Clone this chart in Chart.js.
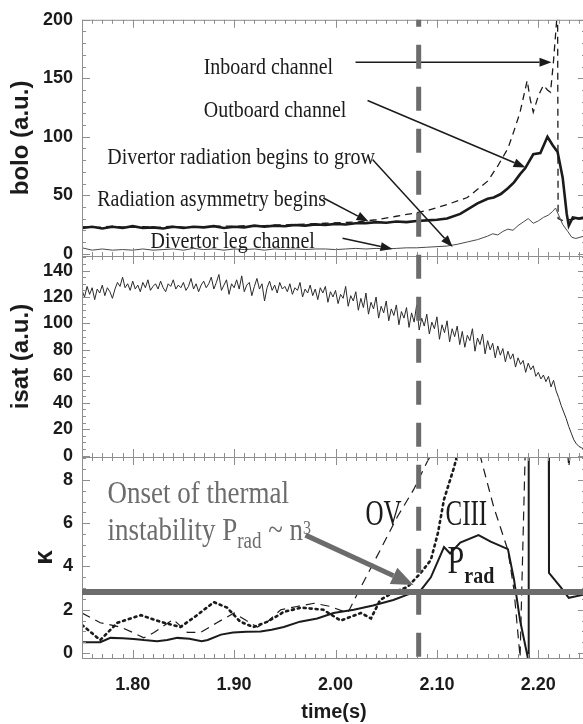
<!DOCTYPE html>
<html>
<head>
<meta charset="utf-8">
<script src="https://cdn.jsdelivr.net/npm/chart.js@4.4.1/dist/chart.umd.min.js"></script>
<style>
  html, body { margin: 0; padding: 0; background: #fff; }
  #wrap { position: relative; width: 583px; height: 724px; overflow: hidden; }
  canvas { position: absolute; left: 0; top: 0; }
</style>
</head>
<body>
<div id="wrap">
  <canvas id="boloChart" width="590" height="724"></canvas>
  <canvas id="isatChart" width="590" height="724"></canvas>
  <canvas id="kappaChart" width="590" height="724"></canvas>
</div>
<script>
// time axis
const T_MIN = 1.75;
const T_MAX = 2.247;
const X_TICKS = [1.8, 1.9, 2.0, 2.1, 2.2];
const ONSET_T = 2.082;

// bolo panel
const BOLO_TICKS = [0, 50, 100, 150, 200];
const OUT_T = [1.750, 1.760, 1.770, 1.780, 1.790, 1.800, 1.810, 1.820, 1.830, 1.840,
  1.850, 1.860, 1.870, 1.880, 1.890, 1.900, 1.910, 1.920, 1.930, 1.940,
  1.950, 1.960, 1.970, 1.980, 1.990, 2.000, 2.010, 2.020, 2.030, 2.040,
  2.050, 2.060, 2.070, 2.080, 2.090, 2.100, 2.110,
  2.123, 2.140, 2.150, 2.156, 2.163, 2.170, 2.176, 2.182, 2.187, 2.195,
  2.202, 2.209, 2.214, 2.219, 2.224, 2.228, 2.230, 2.234, 2.240, 2.245];
const OUT_V = [22, 23, 21.5, 23, 22, 23.5, 22, 22.5, 21.5, 23,
  22, 23, 22.5, 23.5, 22, 23, 22.5, 24, 23, 24,
  23.5, 24.5, 24, 25, 24.5, 25.5, 25, 26, 26, 27,
  26.5, 27.5, 27, 28, 28.5, 29, 30,
  34, 43, 47, 48, 51, 56, 61, 68, 73, 85,
  86, 100, 93, 87, 65, 34, 24, 31, 30, 31];
const IN_T = [1.750, 1.765, 1.780, 1.795, 1.810, 1.825, 1.840, 1.855, 1.870, 1.885,
  1.900, 1.915, 1.930, 1.945, 1.960, 1.975, 1.990, 2.005, 2.020, 2.040,
  2.060, 2.080, 2.091, 2.110, 2.130, 2.150, 2.160, 2.170, 2.176, 2.182,
  2.189, 2.192, 2.195, 2.200, 2.205, 2.209, 2.212, 2.215, 2.219, 2.2195,
  2.225, 2.230, 2.245];
const IN_V = [23, 22.5, 23.5, 22.5, 23, 22.5, 23.5, 22.5, 23, 23.5,
  23.5, 24, 24, 24.5, 25, 25.5, 26, 26.5, 27, 29,
  32, 35, 37, 42, 48, 62, 75, 90, 105, 121,
  148, 132, 121, 135, 144, 140, 138, 165, 210, 30,
  28, 29, 30];
const LEG_T = [1.750, 1.760, 1.770, 1.780, 1.790, 1.800, 1.810, 1.820, 1.830, 1.840,
  1.850, 1.860, 1.870, 1.880, 1.890, 1.900, 1.910, 1.920, 1.930, 1.940,
  1.950, 1.960, 1.970, 1.980, 1.990, 2.000, 2.010, 2.020, 2.030, 2.040,
  2.050, 2.060, 2.070, 2.080, 2.090, 2.100, 2.110,
  2.120, 2.130, 2.140, 2.150, 2.155, 2.160, 2.165, 2.170, 2.175, 2.180,
  2.185, 2.190, 2.195, 2.200, 2.205, 2.210, 2.214, 2.217, 2.220, 2.224,
  2.229, 2.233, 2.237, 2.241, 2.245];
const LEG_V = [5, 3, 4, 3, 3.5, 3, 4, 3, 3.5, 4,
  3, 4.5, 3.5, 4, 3, 4, 3.5, 4, 3, 4,
  3.5, 4, 3.5, 4, 4, 3.5, 4, 4.5, 4, 4.5,
  4, 4.5, 5, 5, 5.5, 6, 6.5,
  8, 10, 12, 15, 17, 16, 19, 21, 20, 24,
  27, 30, 26, 28, 31, 33, 36, 39, 33, 25,
  19, 14, 13, 14, 15];
const BOLO_NOTES = [
  ["Inboard channel", 1.870, 153.7],
  ["Outboard channel", 1.870, 116.7],
  ["Divertor radiation begins to grow", 1.775, 77.1],
  ["Radiation asymmetry begins", 1.765, 40.9],
  ["Divertor leg channel", 1.8176, 4.7],
];
const BOLO_ARROWS = [
  [2.0197, 163.8, 2.213, 163.8],
  [2.0316, 131, 2.1874, 73.7],
  [2.0365, 80.5, 2.1155, 5.6],
  [1.988, 47.6, 2.0326, 27.4],
  [2.0069, 13.1, 2.0562, 3.9],
];

// isat panel (sampled every 2.5 ms from 1.75 s)
const ISAT_TICKS = [0, 20, 40, 60, 80, 100, 120, 140];
const ISAT_T0 = 1.75;
const ISAT_DT = 0.0025;
const ISAT = [
  125, 120, 128, 122, 127, 118, 126, 123, 129, 121,
  127, 124, 119, 126, 131, 128, 135, 127, 130, 125,
  132, 126, 129, 124, 131, 127, 133, 125, 128, 130,
  126, 132, 127, 124, 130, 128, 133, 126, 129, 127,
  131, 125, 128, 134, 126, 130, 124, 129, 132, 127,
  130, 135, 126, 131, 137, 125, 129, 133, 122, 130,
  127, 133, 126, 136, 124, 129, 131, 121, 128, 134,
  126, 130, 117, 127, 132, 125, 129, 123, 131, 126,
  128, 124, 130, 122, 127, 125, 131, 120, 126, 123,
  129, 121, 126, 118, 127, 123, 128, 116, 124, 120,
  125, 115, 122, 119, 128, 113, 121, 117, 124, 110,
  119, 112, 123, 107, 116, 111, 120, 104, 113, 108,
  117, 102, 111, 106, 114, 99, 109, 104, 112, 97,
  108, 101, 114, 95, 104, 98, 107, 92, 101, 96,
  105, 88, 99, 93, 102, 86, 96, 90, 98, 84,
  94, 82, 91, 87, 96, 79, 89, 84, 92, 77,
  87, 80, 85, 74, 83, 76, 81, 71, 79, 73,
  77, 67, 74, 69, 72, 63, 70, 65, 68, 60,
  63, 58, 61, 56, 60, 52, 57, 49, 44, 38,
  33, 28, 22, 17, 12, 9, 7, 6, 5,
];

// kappa panel
const KAPPA_TICKS = [0, 2, 4, 6, 8];
const THRESHOLD_K = 2.82;
const PRAD_T = [1.750, 1.768, 1.778, 1.790, 1.801, 1.811, 1.824, 1.834, 1.844, 1.856,
  1.868, 1.874, 1.887, 1.899, 1.912, 1.926, 1.937, 1.949, 1.965, 1.982,
  1.998, 2.018, 2.037, 2.057, 2.071, 2.084, 2.094, 2.107, 2.113, 2.123,
  2.141, 2.153, 2.170, 2.176, 2.182, 2.190, 2.1905, 2.210, 2.2105, 2.222,
  2.230, 2.245];
const PRAD_V = [0.5, 0.5, 0.7, 0.68, 0.65, 0.6, 0.55, 0.6, 0.7, 0.66,
  0.55, 0.6, 0.85, 0.95, 0.98, 1.0, 1.08, 1.2, 1.45, 1.6,
  1.85, 2.0, 2.2, 2.45, 2.7, 2.9, 3.5, 4.9, 4.6, 5.1,
  5.45, 5.15, 4.8, 3.4, 1.5, -0.3, 20, 20, 3.7, 3.05,
  2.55, 2.7];
const OV_T = [1.750, 1.768, 1.788, 1.800, 1.811, 1.821, 1.840, 1.854, 1.867, 1.883,
  1.900, 1.912, 1.923, 1.933, 1.946, 1.962, 1.979, 1.995, 2.012, 2.025,
  2.044, 2.061, 2.077, 2.091, 2.120, 2.143, 2.156, 2.170, 2.176, 2.182,
  2.1885, 2.226, 2.230, 2.236, 2.245];
const OV_V = [1.85, 1.4, 1.2, 0.95, 0.7, 0.95, 1.55, 0.95, 0.95, 1.4,
  1.85, 1.5, 1.2, 1.45, 2.0, 2.15, 2.3, 2.15, 1.85, 3.05,
  4.75, 6.3, 7.55, 8.9, 11, 9.05, 6.75, 4.75, 2.9, -0.2,
  12, 11, 8.6, 11, 12];
const CIII_T = [1.750, 1.768, 1.785, 1.808, 1.827, 1.847, 1.862, 1.880, 1.893, 1.906,
  1.919, 1.933, 1.949, 1.966, 1.988, 2.005, 2.025, 2.035, 2.044, 2.057,
  2.071, 2.084, 2.094, 2.101, 2.107, 2.117, 2.130, 2.245];
const CIII_V = [1.3, 0.6, 1.4, 1.75, 1.45, 1.2, 1.7, 2.35, 2.1, 1.45,
  1.2, 1.45, 1.9, 2.1, 2.0, 1.5, 1.85, 1.6, 2.45, 2.8,
  3.05, 3.7, 4.3, 5.55, 7.1, 8.6, 11, 11];

const SANS = "'Liberation Sans', Arial, sans-serif";
const SERIF = "'Liberation Serif', 'Times New Roman', serif";
const INK = "#1b1b1b";
const GREY = "#6c6c6c";

function pts(ts, vs) {
  return ts.map((t, i) => ({ x: t, y: vs[i] }));
}

function drawFrame(chart, yMinor, yMajor) {
  const { ctx, chartArea: a, scales: { x, y } } = chart;
  ctx.save();
  ctx.strokeStyle = "#8e8e8e";
  ctx.lineWidth = 1;
  ctx.strokeRect(a.left + 0.5, a.top + 0.5, a.right - a.left, a.bottom - a.top);
  ctx.beginPath();
  for (let i = 175; i <= 224; i++) {
    const px = Math.round(x.getPixelForValue(i / 100)) + 0.5;
    const len = i % 10 === 0 ? 8 : 4;
    ctx.moveTo(px, a.top); ctx.lineTo(px, a.top + len);
    ctx.moveTo(px, a.bottom); ctx.lineTo(px, a.bottom - len);
  }
  const n0 = Math.ceil(y.min / yMinor);
  const n1 = Math.floor(y.max / yMinor);
  for (let n = n0; n <= n1; n++) {
    const v = n * yMinor;
    const py = Math.round(y.getPixelForValue(v)) + 0.5;
    const r = v / yMajor;
    const len = Math.abs(r - Math.round(r)) < 1e-6 ? 8 : 4;
    ctx.moveTo(a.left, py); ctx.lineTo(a.left + len, py);
    ctx.moveTo(a.right, py); ctx.lineTo(a.right - len, py);
  }
  ctx.stroke();
  ctx.restore();
}

function arrow(ctx, x1, y1, x2, y2, w, head, hw, color) {
  const ang = Math.atan2(y2 - y1, x2 - x1);
  const bx = x2 - head * Math.cos(ang);
  const by = y2 - head * Math.sin(ang);
  ctx.save();
  ctx.strokeStyle = color;
  ctx.fillStyle = color;
  ctx.lineWidth = w;
  ctx.beginPath(); ctx.moveTo(x1, y1); ctx.lineTo(bx, by); ctx.stroke();
  ctx.beginPath();
  ctx.moveTo(x2, y2);
  ctx.lineTo(bx + hw * Math.sin(ang), by - hw * Math.cos(ang));
  ctx.lineTo(bx - hw * Math.sin(ang), by + hw * Math.cos(ang));
  ctx.closePath(); ctx.fill();
  ctx.restore();
}

// text stretched vertically like the scanned figure; returns advance width
function note(ctx, str, x, y, font, color, sy) {
  ctx.save();
  ctx.font = font;
  ctx.fillStyle = color;
  ctx.textBaseline = "alphabetic";
  ctx.textAlign = "left";
  const w = ctx.measureText(str).width;
  ctx.translate(x, y);
  ctx.scale(1, sy);
  ctx.fillText(str, 0, 0);
  ctx.restore();
  return w;
}

function yAxis(min, max, ticks, title, titlePad, titleSize) {
  return {
    min, max,
    afterFit: (s) => { s.width = 82; },
    afterBuildTicks: (s) => { s.ticks = ticks.map((v) => ({ value: v })); },
    grid: { display: false, drawTicks: false },
    border: { display: false },
    ticks: { color: INK, padding: 9, font: { family: SANS, size: 18, weight: "bold" } },
    title: {
      display: true, text: title, color: INK,
      padding: { top: titlePad, bottom: 0 },
      font: { family: SANS, size: titleSize, weight: "bold" },
    },
  };
}

function xAxis(show) {
  return {
    type: "linear", min: T_MIN, max: T_MAX, display: show,
    afterFit: (s) => { s.height = show ? 66 : 0; },
    afterBuildTicks: (s) => { s.ticks = X_TICKS.map((v) => ({ value: v })); },
    grid: { display: false, drawTicks: false },
    border: { display: false },
    ticks: {
      color: INK, padding: 16, maxRotation: 0, autoSkip: false,
      font: { family: SANS, size: 18, weight: "bold" },
      callback: (v) => Number(v).toFixed(2),
    },
    title: {
      display: true, text: "time(s)", color: INK, padding: { top: 0, bottom: 0 },
      font: { family: SANS, size: 20, weight: "bold" },
    },
  };
}

const common = {
  responsive: false,
  animation: false,
  events: [],
  plugins: { legend: { display: false }, tooltip: { enabled: false } },
  elements: { point: { radius: 0 }, line: { tension: 0 } },
};

const boloChart = new Chart(document.getElementById("boloChart"), {
  type: "line",
  data: {
    datasets: [
      { data: pts(LEG_T, LEG_V), borderColor: "#4a4a4a", borderWidth: 1 },
      { data: pts(IN_T, IN_V), borderColor: INK, borderWidth: 1.3, borderDash: [7, 5] },
      { data: pts(OUT_T, OUT_V), borderColor: INK, borderWidth: 2.6 },
    ],
  },
  options: {
    ...common,
    layout: { padding: { top: 16, bottom: 724 - 256, left: 0, right: 4 } },
    scales: { x: xAxis(false), y: yAxis(-2, 200, BOLO_TICKS, "bolo (a.u.)", 7, 24) },
  },
  plugins: [{
    id: "boloDeco",
    afterDatasetsDraw(chart) {
      const { ctx, scales: { x, y } } = chart;
      drawFrame(chart, 10, 50);
      BOLO_NOTES.forEach(([s, t, v]) => {
        note(ctx, s, x.getPixelForValue(t), y.getPixelForValue(v), `20px ${SERIF}`, INK, 1.15);
      });
      BOLO_ARROWS.forEach(([t1, v1, t2, v2]) => {
        arrow(ctx, x.getPixelForValue(t1), y.getPixelForValue(v1),
          x.getPixelForValue(t2), y.getPixelForValue(v2), 1.5, 12, 4.5, INK);
      });
    },
  }],
});

const isatChart = new Chart(document.getElementById("isatChart"), {
  type: "line",
  data: {
    datasets: [
      { data: ISAT.map((v, i) => ({ x: ISAT_T0 + i * ISAT_DT, y: v })), borderColor: "#2a2a2a", borderWidth: 1 },
    ],
  },
  options: {
    ...common,
    layout: { padding: { top: 256, bottom: 724 - 457, left: 0, right: 4 } },
    scales: { x: xAxis(false), y: yAxis(-1, 151, ISAT_TICKS, "isat (a.u.)", 7, 24) },
  },
  plugins: [{
    id: "isatDeco",
    afterDatasetsDraw(chart) { drawFrame(chart, 5, 20); },
  }],
});

const kappaChart = new Chart(document.getElementById("kappaChart"), {
  type: "line",
  data: {
    datasets: [
      { data: pts(OV_T, OV_V), borderColor: INK, borderWidth: 1.2, borderDash: [9, 6] },
      { data: pts(CIII_T, CIII_V), borderColor: INK, borderWidth: 2.6, borderDash: [2, 4], borderCapStyle: "round" },
      { data: pts(PRAD_T, PRAD_V), borderColor: INK, borderWidth: 2 },
    ],
  },
  options: {
    ...common,
    layout: { padding: { top: 457, bottom: 0, left: 0, right: 4 } },
    scales: { x: xAxis(true), y: yAxis(-0.23, 9.06, KAPPA_TICKS, "κ", 29, 26) },
  },
  plugins: [{
    id: "kappaDeco",
    afterDatasetsDraw(chart) {
      const { ctx, chartArea: a, scales: { x, y } } = chart;
      drawFrame(chart, 0.5, 2);

      // threshold line
      const hy = y.getPixelForValue(THRESHOLD_K);
      ctx.save();
      ctx.strokeStyle = GREY;
      ctx.lineWidth = 6;
      ctx.beginPath(); ctx.moveTo(a.left, hy); ctx.lineTo(a.right, hy); ctx.stroke();
      ctx.restore();

      // onset annotation
      const gx = x.getPixelForValue(1.7751);
      note(ctx, "Onset of thermal", gx, y.getPixelForValue(6.93), `27px ${SERIF}`, GREY, 1.2);
      const by = y.getPixelForValue(5.22);
      let cx = gx;
      cx += note(ctx, "instability P", cx, by, `27px ${SERIF}`, GREY, 1.2);
      cx += note(ctx, "rad", cx, by + 8, `19px ${SERIF}`, GREY, 1.2);
      cx += note(ctx, " ~ n", cx, by, `27px ${SERIF}`, GREY, 1.2);
      note(ctx, "3", cx, by - 6, `16px ${SERIF}`, GREY, 1.2);
      arrow(ctx, x.getPixelForValue(1.9704), y.getPixelForValue(5.45),
        x.getPixelForValue(2.0769), y.getPixelForValue(3.14), 5, 22, 9, GREY);

      note(ctx, "OV", x.getPixelForValue(2.0296), y.getPixelForValue(5.91), `25px ${SERIF}`, INK, 1.4);
      note(ctx, "CIII", x.getPixelForValue(2.1085), y.getPixelForValue(5.91), `25px ${SERIF}`, INK, 1.4);
      const px = x.getPixelForValue(2.1105);
      const py = y.getPixelForValue(3.70);
      const pw = note(ctx, "P", px, py, `30px ${SERIF}`, INK, 1.35);
      note(ctx, "rad", px + pw, py + 10, `bold 20px ${SERIF}`, INK, 1.2);

      // onset marker through all three panels
      const vx = x.getPixelForValue(ONSET_T);
      ctx.save();
      ctx.strokeStyle = GREY;
      ctx.lineWidth = 5;
      ctx.setLineDash([24, 18]);
      ctx.lineDashOffset = 17;
      ctx.beginPath();
      ctx.moveTo(vx, boloChart.chartArea.top);
      ctx.lineTo(vx, a.bottom);
      ctx.stroke();
      ctx.restore();
    },
  }],
});
</script>
</body>
</html>
